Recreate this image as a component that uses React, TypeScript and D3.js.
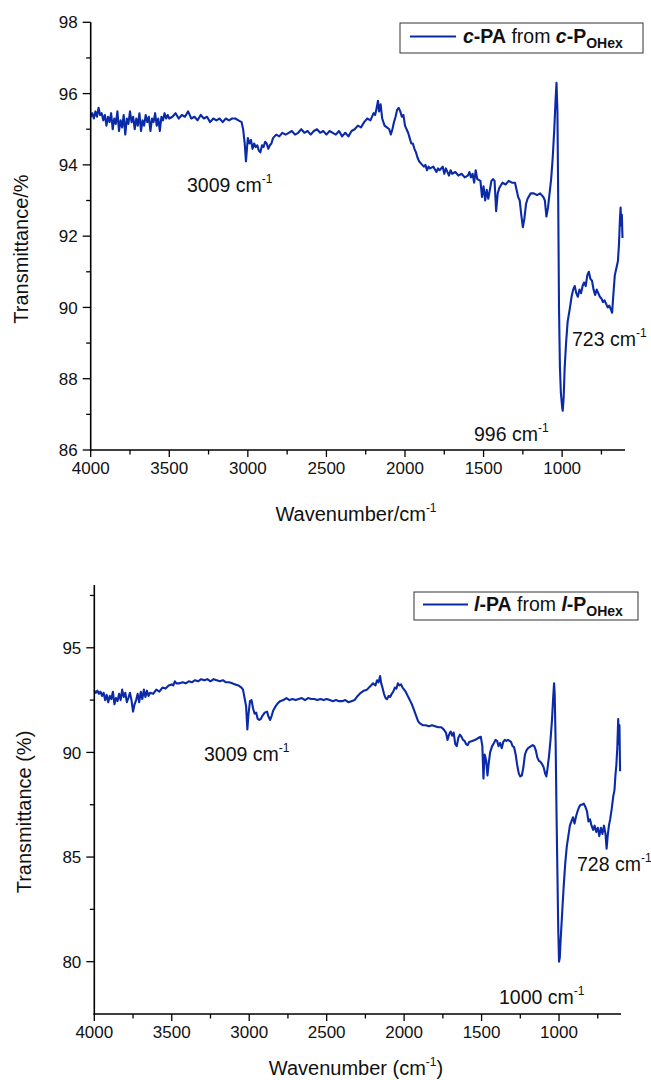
import React from "react";
import * as d3 from "d3";

// ---------- data ----------
const xMajorTicks = [4000, 3500, 3000, 2500, 2000, 1500, 1000];
const xMinorTicks = [3750, 3250, 2750, 2250, 1750, 1250, 750];
const topYMajor = [86, 88, 90, 92, 94, 96, 98];
const topYMinor = [87, 89, 91, 93, 95, 97];
const bottomYMajor = [80, 85, 90, 95];
const bottomYMinor = [82.5, 87.5, 92.5, 97.5];

// c-PA from c-P_OHex  [wavenumber, transmittance]
const cpaSpectrum: [number, number][] = [
  [4000, 95.35], [3990, 95.45], [3980, 95.3], [3970, 95.5], [3960, 95.35], [3950, 95.6], [3940, 95.4], [3930, 95.45],
  [3920, 95.25], [3910, 95.4], [3900, 95.1], [3890, 95.35], [3880, 95.2], [3870, 95.45], [3860, 95.0], [3850, 95.3],
  [3840, 95.15], [3830, 95.5], [3820, 94.95], [3810, 95.25], [3800, 95.05], [3790, 95.4], [3780, 94.85], [3770, 95.3],
  [3760, 95.15], [3750, 95.5], [3740, 95.2], [3730, 95.35], [3720, 95.0], [3710, 95.3], [3700, 95.1], [3690, 95.45],
  [3680, 94.95], [3670, 95.25], [3660, 95.1], [3650, 95.4], [3640, 95.2], [3630, 95.35], [3620, 94.95], [3610, 95.3],
  [3600, 95.2], [3590, 95.45], [3580, 95.1], [3570, 95.3], [3560, 94.95], [3550, 95.35], [3540, 95.25], [3530, 95.45],
  [3520, 95.3], [3510, 95.4], [3500, 95.3], [3480, 95.35], [3460, 95.45], [3440, 95.3], [3420, 95.4], [3400, 95.35],
  [3380, 95.5], [3360, 95.3], [3340, 95.35], [3320, 95.25], [3300, 95.4], [3280, 95.3], [3260, 95.35], [3240, 95.2],
  [3220, 95.3], [3200, 95.25], [3180, 95.3], [3160, 95.2], [3140, 95.3], [3120, 95.25], [3100, 95.3], [3080, 95.3],
  [3060, 95.25], [3040, 95.2], [3030, 95.0], [3020, 94.6], [3012, 94.1], [3005, 94.5], [3000, 94.75], [2990, 94.6],
  [2980, 94.7], [2970, 94.45], [2960, 94.6], [2950, 94.5], [2940, 94.55], [2930, 94.4], [2920, 94.35], [2910, 94.55],
  [2900, 94.5], [2890, 94.65], [2880, 94.6], [2870, 94.45], [2860, 94.55], [2850, 94.6], [2840, 94.75], [2820, 94.85],
  [2800, 94.8], [2780, 94.9], [2760, 94.85], [2740, 94.9], [2720, 94.95], [2700, 94.85], [2680, 94.9], [2660, 95.0],
  [2640, 94.9], [2620, 94.95], [2600, 94.85], [2580, 94.95], [2560, 95.0], [2540, 94.9], [2520, 94.95], [2500, 94.85],
  [2480, 94.95], [2460, 94.9], [2440, 94.85], [2420, 94.95], [2400, 94.8], [2380, 94.9], [2360, 94.8], [2340, 94.95],
  [2320, 95.0], [2300, 95.1], [2280, 95.05], [2260, 95.2], [2240, 95.3], [2220, 95.25], [2200, 95.45], [2190, 95.4],
  [2180, 95.6], [2172, 95.8], [2165, 95.5], [2155, 95.7], [2145, 95.3], [2130, 95.1], [2115, 95.05], [2100, 95.0],
  [2090, 94.85], [2080, 95.0], [2070, 95.2], [2060, 95.35], [2050, 95.55], [2040, 95.6], [2030, 95.5], [2020, 95.35],
  [2010, 95.4], [2000, 95.1], [1990, 95.0], [1980, 94.9], [1970, 94.75], [1960, 94.6], [1950, 94.6], [1940, 94.45],
  [1930, 94.35], [1920, 94.2], [1910, 94.1], [1900, 94.05], [1890, 94.0], [1880, 93.95], [1870, 94.0], [1860, 93.85],
  [1850, 93.95], [1840, 93.9], [1820, 93.95], [1800, 93.8], [1790, 93.9], [1780, 93.85], [1760, 93.95], [1750, 93.75],
  [1740, 93.9], [1720, 93.7], [1710, 93.85], [1700, 93.75], [1680, 93.8], [1660, 93.7], [1640, 93.75], [1620, 93.65],
  [1600, 93.7], [1590, 93.8], [1580, 93.65], [1570, 93.75], [1560, 93.5], [1550, 93.85], [1540, 93.6], [1520, 93.55],
  [1510, 93.1], [1500, 93.4], [1490, 93.0], [1480, 93.3], [1470, 93.05], [1460, 93.3], [1450, 93.55], [1440, 93.6],
  [1430, 93.55], [1420, 92.7], [1410, 93.2], [1400, 93.35], [1380, 93.5], [1360, 93.45], [1340, 93.55], [1320, 93.5],
  [1300, 93.5], [1290, 93.3], [1280, 93.1], [1270, 93.0], [1260, 92.6], [1250, 92.25], [1240, 92.5], [1230, 92.9],
  [1220, 93.05], [1200, 93.2], [1180, 93.2], [1160, 93.15], [1140, 93.2], [1120, 93.1], [1110, 93.0], [1100, 92.55],
  [1090, 92.8], [1080, 93.2], [1070, 93.6], [1060, 94.2], [1050, 95.0], [1042, 95.8], [1036, 96.3], [1030, 95.5],
  [1025, 93.0], [1020, 90.0], [1014, 88.3], [1008, 87.6], [1000, 87.2], [996, 87.1], [990, 87.5], [984, 88.3],
  [975, 89.0], [965, 89.6], [950, 90.0], [940, 90.3], [930, 90.5], [920, 90.6], [910, 90.4], [900, 90.3],
  [890, 90.5], [880, 90.4], [870, 90.6], [860, 90.7], [850, 90.6], [840, 90.9], [830, 91.0], [820, 90.8],
  [810, 90.75], [800, 90.5], [790, 90.35], [780, 90.5], [770, 90.4], [760, 90.3], [750, 90.25], [740, 90.15],
  [730, 90.2], [720, 90.1], [710, 90.0], [700, 90.05], [690, 89.95], [682, 89.85], [675, 90.3], [665, 90.9],
  [655, 91.1], [645, 91.3], [638, 91.8], [632, 92.5], [628, 92.8], [624, 92.3], [620, 92.6], [616, 91.95],
];

// l-PA from l-P_OHex  [wavenumber, transmittance]
const lpaSpectrum: [number, number][] = [
  [4000, 92.95], [3990, 92.85], [3980, 92.95], [3970, 92.8], [3960, 92.9], [3950, 92.7], [3940, 92.85], [3930, 92.5],
  [3920, 92.75], [3910, 92.4], [3900, 92.7], [3890, 92.55], [3880, 92.9], [3870, 92.3], [3860, 92.6], [3850, 92.45],
  [3840, 92.8], [3830, 92.5], [3820, 93.0], [3810, 92.65], [3800, 92.85], [3790, 92.4], [3780, 92.6], [3770, 92.85],
  [3760, 92.5], [3750, 91.95], [3740, 92.3], [3730, 92.5], [3720, 92.8], [3710, 92.4], [3700, 92.9], [3690, 92.55],
  [3680, 93.0], [3670, 92.65], [3660, 92.95], [3650, 92.7], [3640, 92.85], [3620, 92.8], [3600, 93.0], [3580, 92.9],
  [3560, 93.1], [3540, 93.05], [3520, 93.2], [3500, 93.25], [3490, 93.2], [3480, 93.4], [3470, 93.3], [3450, 93.3],
  [3430, 93.35], [3410, 93.3], [3390, 93.4], [3370, 93.35], [3350, 93.45], [3330, 93.4], [3310, 93.5], [3290, 93.45],
  [3270, 93.5], [3250, 93.4], [3230, 93.5], [3210, 93.45], [3190, 93.4], [3170, 93.45], [3150, 93.35], [3130, 93.35],
  [3110, 93.3], [3090, 93.25], [3070, 93.2], [3050, 93.1], [3040, 93.0], [3030, 92.6], [3020, 92.2], [3012, 91.1],
  [3005, 91.8], [2995, 92.45], [2985, 92.5], [2975, 92.1], [2965, 91.85], [2955, 91.9], [2945, 91.6], [2935, 91.55],
  [2925, 91.6], [2915, 91.75], [2900, 91.9], [2885, 91.95], [2875, 91.7], [2865, 91.55], [2855, 91.75], [2845, 92.0],
  [2830, 92.2], [2815, 92.35], [2800, 92.45], [2780, 92.5], [2760, 92.6], [2740, 92.5], [2720, 92.55], [2700, 92.5],
  [2680, 92.55], [2660, 92.6], [2640, 92.5], [2620, 92.6], [2600, 92.55], [2580, 92.55], [2560, 92.5], [2540, 92.55],
  [2520, 92.5], [2500, 92.55], [2480, 92.5], [2460, 92.45], [2440, 92.5], [2420, 92.45], [2400, 92.45], [2380, 92.5],
  [2360, 92.4], [2340, 92.45], [2320, 92.5], [2300, 92.7], [2280, 92.85], [2260, 92.95], [2240, 93.0], [2220, 93.15],
  [2200, 93.3], [2185, 93.2], [2175, 93.45], [2165, 93.35], [2155, 93.65], [2148, 93.3], [2140, 93.1], [2130, 92.8],
  [2120, 92.6], [2110, 92.55], [2100, 92.7], [2090, 92.65], [2080, 92.8], [2070, 92.9], [2060, 93.1], [2050, 93.05],
  [2040, 93.3], [2030, 93.2], [2020, 93.25], [2010, 93.1], [2000, 93.0], [1990, 92.9], [1980, 92.75], [1970, 92.6],
  [1960, 92.45], [1950, 92.3], [1940, 92.1], [1930, 91.9], [1920, 91.7], [1910, 91.5], [1900, 91.4], [1890, 91.35],
  [1880, 91.3], [1860, 91.3], [1840, 91.25], [1820, 91.3], [1800, 91.25], [1780, 91.2], [1760, 91.2], [1745, 91.1],
  [1730, 90.95], [1720, 90.6], [1710, 90.85], [1700, 91.0], [1690, 90.8], [1680, 90.95], [1670, 90.4], [1660, 90.3],
  [1650, 90.7], [1640, 90.85], [1630, 90.75], [1620, 90.6], [1610, 90.55], [1600, 90.4], [1590, 90.35], [1580, 90.5],
  [1560, 90.55], [1540, 90.6], [1520, 90.7], [1505, 90.75], [1495, 90.3], [1488, 88.75], [1480, 89.9], [1470, 89.6],
  [1462, 88.9], [1455, 89.4], [1445, 90.0], [1432, 90.3], [1420, 90.45], [1410, 90.6], [1400, 90.55], [1390, 90.3],
  [1380, 90.45], [1370, 90.2], [1360, 90.5], [1350, 90.6], [1340, 90.55], [1330, 90.6], [1310, 90.5], [1300, 90.3],
  [1290, 90.25], [1280, 89.9], [1270, 89.4], [1260, 89.0], [1250, 88.85], [1240, 88.9], [1230, 89.3], [1220, 89.9],
  [1210, 90.1], [1200, 90.2], [1180, 90.3], [1170, 90.35], [1160, 90.3], [1150, 90.1], [1140, 89.75], [1130, 89.6],
  [1120, 89.55], [1110, 89.45], [1100, 89.3], [1090, 89.0], [1082, 88.85], [1075, 89.2], [1065, 89.8], [1055, 90.6],
  [1045, 91.6], [1038, 92.6], [1032, 93.3], [1028, 92.8], [1022, 90.5], [1016, 87.0], [1010, 84.0], [1005, 81.5],
  [1000, 80.0], [995, 80.2], [990, 81.0], [980, 82.3], [970, 83.6], [960, 84.7], [950, 85.5], [940, 86.0],
  [930, 86.5], [920, 86.7], [910, 86.9], [900, 86.6], [890, 86.95], [880, 87.2], [870, 87.4], [860, 87.5],
  [850, 87.5], [840, 87.55], [830, 87.4], [820, 87.2], [810, 86.7], [800, 86.8], [790, 86.5], [780, 86.3],
  [770, 86.5], [760, 86.2], [750, 86.4], [740, 86.0], [730, 86.4], [720, 86.1], [710, 86.5], [700, 86.1],
  [693, 85.4], [686, 86.0], [678, 86.5], [670, 86.8], [660, 87.3], [650, 87.9], [642, 88.2], [636, 88.9],
  [630, 89.4], [624, 90.2], [618, 91.6], [614, 90.4], [610, 91.3], [606, 89.1],
];

const LINE_COLOR = "#0a2aa8";
const FONT = "'Liberation Sans', Arial, Helvetica, sans-serif";

type Ann = { text: string; x: number; y: number };

type PanelProps = {
  data: [number, number][];
  xRange: [number, number];
  yRange: [number, number];
  yDomain: [number, number];
  yMajor: number[];
  yMinor: number[];
  xTitle: React.ReactNode;
  xTitlePos: [number, number];
  yTitle: string;
  yTitlePos: [number, number];
  legend: React.ReactNode;
  legendBox: [number, number, number, number];
  legendLine: [number, number, number];
  legendTextPos: [number, number];
  annotations: Ann[];
};

function Sup({ s }: { s: string }) {
  return (
    <tspan dy={-9} fontSize={12}>
      {s}
    </tspan>
  );
}

function Panel(p: PanelProps) {
  const x = d3.scaleLinear().domain([4000, 600]).range(p.xRange);
  const y = d3.scaleLinear().domain(p.yDomain).range(p.yRange);
  const line = d3
    .line<[number, number]>()
    .x((d) => x(d[0]))
    .y((d) => y(d[1]));
  const x0 = p.xRange[0];
  const y0 = p.yRange[0];
  return (
    <g fontFamily={FONT}>
      <path d={line(p.data) || ""} fill="none" stroke={LINE_COLOR} strokeWidth={2.1} strokeLinejoin="round" />
      {/* axes */}
      <line x1={x0} x2={x0} y1={p.yRange[1]} y2={y0 + 0.8} stroke="#000" strokeWidth={1.6} />
      <line x1={x0 - 0.8} x2={p.xRange[1]} y1={y0} y2={y0} stroke="#000" strokeWidth={1.6} />
      {p.yMajor.map((v) => (
        <g key={"ym" + v}>
          <line x1={x0 - 8} x2={x0} y1={y(v)} y2={y(v)} stroke="#000" strokeWidth={1.3} />
          <text x={x0 - 13} y={y(v)} dy="0.36em" textAnchor="end" fontSize={17} fill="#111">
            {v}
          </text>
        </g>
      ))}
      {p.yMinor.map((v) => (
        <line key={"yn" + v} x1={x0 - 4.5} x2={x0} y1={y(v)} y2={y(v)} stroke="#000" strokeWidth={1.3} />
      ))}
      {xMajorTicks.map((v) => (
        <g key={"xm" + v}>
          <line x1={x(v)} x2={x(v)} y1={y0} y2={y0 + 7} stroke="#000" strokeWidth={1.3} />
          <text x={x(v)} y={y0 + 24} textAnchor="middle" fontSize={17} fill="#111">
            {v}
          </text>
        </g>
      ))}
      {xMinorTicks.map((v) => (
        <line key={"xn" + v} x1={x(v)} x2={x(v)} y1={y0} y2={y0 + 4.5} stroke="#000" strokeWidth={1.3} />
      ))}
      {/* titles */}
      <text x={p.xTitlePos[0]} y={p.xTitlePos[1]} textAnchor="middle" fontSize={20} fill="#111">
        {p.xTitle}
      </text>
      <text
        transform={`translate(${p.yTitlePos[0]},${p.yTitlePos[1]}) rotate(-90)`}
        textAnchor="middle"
        fontSize={20}
        fill="#111"
      >
        {p.yTitle}
      </text>
      {/* legend */}
      <rect
        x={p.legendBox[0]}
        y={p.legendBox[1]}
        width={p.legendBox[2]}
        height={p.legendBox[3]}
        fill="#fff"
        stroke="#333"
        strokeWidth={1}
      />
      <line
        x1={p.legendLine[0]}
        x2={p.legendLine[1]}
        y1={p.legendLine[2]}
        y2={p.legendLine[2]}
        stroke={LINE_COLOR}
        strokeWidth={2}
      />
      <text x={p.legendTextPos[0]} y={p.legendTextPos[1]} fontSize={19.5} fill="#111">
        {p.legend}
      </text>
      {/* annotations */}
      {p.annotations.map((a) => (
        <text key={a.text} x={a.x} y={a.y} fontSize={19.5} fill="#111">
          {a.text}
          <Sup s="-1" />
        </text>
      ))}
    </g>
  );
}

function LegendLabel({ letter }: { letter: string }) {
  return (
    <>
      <tspan fontWeight="bold" fontStyle="italic">{letter}</tspan>
      <tspan fontWeight="bold">-PA</tspan>
      <tspan> from </tspan>
      <tspan fontWeight="bold" fontStyle="italic">{letter}</tspan>
      <tspan fontWeight="bold">-P</tspan>
      <tspan fontWeight="bold" fontSize={14} dy={5}>OHex</tspan>
    </>
  );
}

export default function App() {
  return (
    <svg
      width={651}
      height={1080}
      style={{ position: "absolute", left: 0, top: 0, display: "block", background: "#fff" }}
    >
      <rect width={651} height={1080} fill="#fff" />
      <Panel
        data={cpaSpectrum}
        xRange={[90.7, 625]}
        yRange={[450, 22.3]}
        yDomain={[86, 98]}
        yMajor={topYMajor}
        yMinor={topYMinor}
        xTitle={
          <>
            Wavenumber/cm
            <Sup s="-1" />
          </>
        }
        xTitlePos={[356, 521]}
        yTitle="Transmittance/%"
        yTitlePos={[28, 249]}
        legend={<LegendLabel letter="c" />}
        legendBox={[400, 23, 243, 30]}
        legendLine={[410, 456, 36.5]}
        legendTextPos={[463, 43]}
        annotations={[
          { text: "3009 cm", x: 187, y: 192 },
          { text: "996 cm", x: 474, y: 441 },
          { text: "723 cm", x: 572, y: 346 },
        ]}
      />
      <Panel
        data={lpaSpectrum}
        xRange={[94.3, 621]}
        yRange={[1014, 585]}
        yDomain={[77.5, 98]}
        yMajor={bottomYMajor}
        yMinor={bottomYMinor}
        xTitle={
          <>
            Wavenumber (cm
            <Sup s="-1" />
            <tspan dy={9}>)</tspan>
          </>
        }
        xTitlePos={[356, 1075]}
        yTitle="Transmittance (%)"
        yTitlePos={[31, 812]}
        legend={<LegendLabel letter="l" />}
        legendBox={[414, 592, 224, 28]}
        legendLine={[423, 468, 604.5]}
        legendTextPos={[474, 611]}
        annotations={[
          { text: "3009 cm", x: 204, y: 761 },
          { text: "1000 cm", x: 499, y: 1004 },
          { text: "728 cm", x: 577, y: 871 },
        ]}
      />
    </svg>
  );
}
